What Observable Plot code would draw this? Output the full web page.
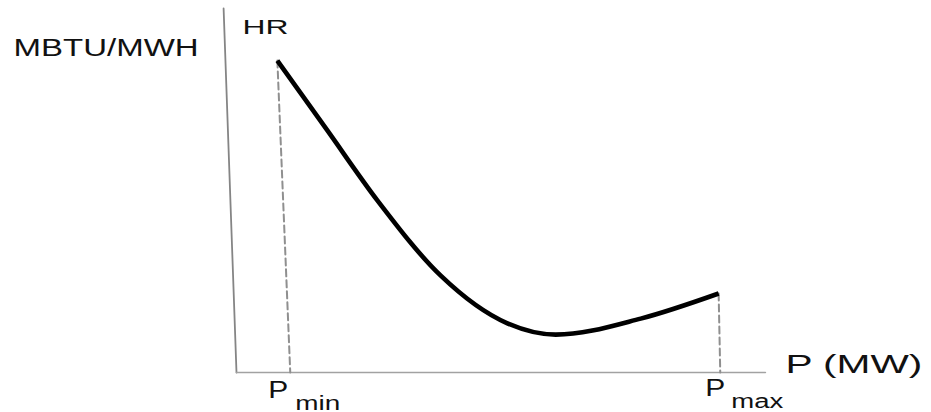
<!DOCTYPE html>
<html>
<head>
<meta charset="utf-8">
<script src="https://cdn.jsdelivr.net/npm/d3@7"></script>
<script src="https://cdn.jsdelivr.net/npm/@observablehq/plot@0.6"></script>
<style>
  html, body { margin: 0; padding: 0; background: #fff; }
  #chart { width: 931px; height: 412px; }
</style>
</head>
<body>
<div id="chart"></div>
<script>
// ---- data ----
const outputP = [0.76, 1.69, 2.62, 3.80, 5.04, 5.94, 7.52, 8.97];
const heatRate = [8.57, 6.65, 4.73, 2.66, 1.35, 1.04, 1.48, 2.17];
const pLimits = [1, 9];              // Pmin, Pmax
const limitNames = ["min", "max"];
const yAxisEnds = [[-0.24, 10], [0, 0]];   // hand-drawn y axis (slightly slanted)
const xAxisEnds = [[0, 0], [9.84, 0]];
const yLabel = "MBTU/MWH";
const curveLabel = "HR";
const xLabel = "P (MW)";

const curve = outputP.map((p, i) => ({p, hr: heatRate[i]}));
const first = curve[0], last = curve[curve.length - 1];
const dropLines = [
  [{p: first.p, hr: first.hr}, {p: pLimits[0], hr: 0}],
  [{p: last.p, hr: last.hr}, {p: pLimits[1], hr: 0}]
];
const ink = "#111";
const font = "Liberation Sans, Arial, sans-serif";

const svg = Plot.plot({
  width: 931,
  height: 412,
  x: {domain: [0, 10], range: [236, 773.5], axis: null},
  y: {domain: [0, 10], range: [372, 8], axis: null},
  style: {fontFamily: font, background: "#fff"},
  marks: [
    Plot.line(yAxisEnds, {x: d => d[0], y: d => d[1], stroke: "#858585", strokeWidth: 1.8}),
    Plot.line(xAxisEnds, {x: d => d[0], y: d => d[1], stroke: "#a2a2a2", strokeWidth: 1.6}),
    Plot.line(dropLines[0], {x: "p", y: "hr", stroke: "#8f8f8f", strokeWidth: 2, strokeDasharray: "7,4"}),
    Plot.line(dropLines[1], {x: "p", y: "hr", stroke: "#8f8f8f", strokeWidth: 2, strokeDasharray: "7,4"}),
    Plot.line(curve, {x: "p", y: "hr", curve: "monotone-x", stroke: "#000", strokeWidth: 4.6, strokeLinecap: "butt"}),
    // labels
    Plot.text([yLabel], {x: yAxisEnds[0][0], y: yAxisEnds[0][1], text: d => d, textAnchor: "start", lineAnchor: "bottom",
      dx: -210, dy: 47, fontSize: 23, fill: ink}),
    Plot.text([curveLabel], {x: yAxisEnds[0][0], y: yAxisEnds[0][1], text: d => d, textAnchor: "start", lineAnchor: "bottom",
      dx: 19, dy: 25, fontSize: 21, fill: ink}),
    Plot.text([xLabel], {x: xAxisEnds[1][0], y: xAxisEnds[1][1], text: d => d, textAnchor: "start", lineAnchor: "bottom",
      dx: 20, dy: 0, fontSize: 26, fill: ink}),
    Plot.text([pLimits[0]], {x: d => d, y: 0, text: () => "P", textAnchor: "start", lineAnchor: "bottom",
      dx: -22, dy: 25, fontSize: 23, fill: ink}),
    Plot.text([pLimits[0]], {x: d => d, y: 0, text: () => limitNames[0], textAnchor: "start", lineAnchor: "bottom",
      dx: 5, dy: 37, fontSize: 20, fill: ink}),
    Plot.text([pLimits[1]], {x: d => d, y: 0, text: () => "P", textAnchor: "start", lineAnchor: "bottom",
      dx: -15, dy: 23, fontSize: 23, fill: ink}),
    Plot.text([pLimits[1]], {x: d => d, y: 0, text: () => limitNames[1], textAnchor: "start", lineAnchor: "bottom",
      dx: 11, dy: 35, fontSize: 20, fill: ink})
  ]
});

// the reference's lettering is horizontally stretched: widen glyphs to the measured widths
const widths = {"MBTU/MWH": 185, "HR": 46, "P (MW)": 137, "min": 45, "max": 52, "P": 20};
d3.select(svg).selectAll("text").each(function() {
  const t = this.textContent;
  if (widths[t]) {
    this.setAttribute("textLength", widths[t]);
    this.setAttribute("lengthAdjust", "spacingAndGlyphs");
  }
});

document.getElementById("chart").appendChild(svg);
</script>
</body>
</html>
